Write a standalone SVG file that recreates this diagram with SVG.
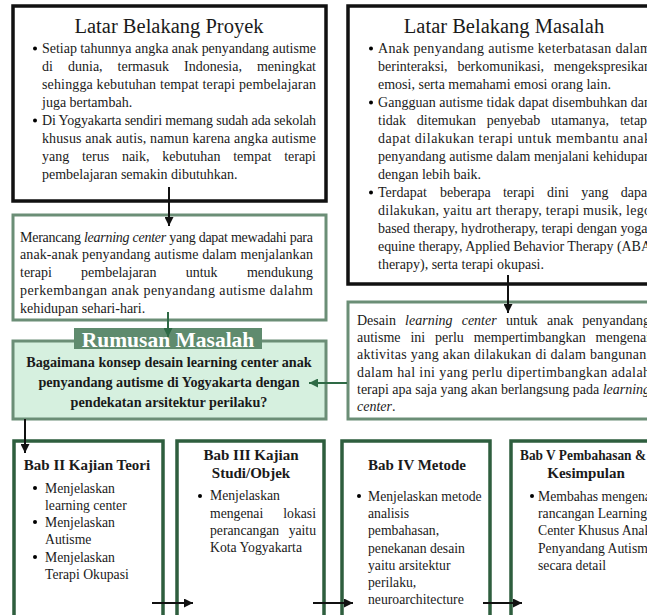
<svg xmlns="http://www.w3.org/2000/svg" width="647" height="615" viewBox="0 0 647 615">
<defs>
<style>
text{font-family:"Liberation Serif","Times New Roman",serif;fill:#1a1a1a}
.t{font-size:14px}
.h{font-size:20.5px;text-anchor:middle}
.b{font-size:14.2px;font-weight:bold;text-anchor:middle}
.bt{font-size:15px;font-weight:bold;text-anchor:middle}
.s{font-size:13.7px}
.e{text-anchor:end}
.i{font-style:italic}
.blk{fill:#fff;stroke:#111;stroke-width:3.5}
.grn{fill:#fff;stroke:#6b8e76;stroke-width:3}
.dk{fill:#fff;stroke:#2e5e3e;stroke-width:3.5}
.ln{stroke:#111;stroke-width:2;fill:none}
</style>
<marker id="ah" viewBox="0 0 10 10" refX="10" refY="5" markerWidth="4.5" markerHeight="4.5" orient="auto" markerUnits="strokeWidth"><path d="M0,0L10,5L0,10z" fill="#111"/></marker>
<marker id="ag" viewBox="0 0 10 10" refX="10" refY="5" markerWidth="4.5" markerHeight="4.5" orient="auto" markerUnits="strokeWidth"><path d="M0,0L10,5L0,10z" fill="#2e6a45"/></marker>
</defs>
<rect width="647" height="615" fill="#fff"/>

<g id="latar-proyek">
<rect class="blk" x="13" y="6" width="313" height="195"/>
<text class="h" x="169" y="33">Latar Belakang Proyek</text>
<circle cx="35" cy="48.5" r="2"/>
<text class="t" x="42" y="53" textLength="274" lengthAdjust="spacing">Setiap tahunnya angka anak penyandang autisme</text>
<text class="t" y="71"><tspan x="42">di</tspan><tspan x="68">dunia,</tspan><tspan x="117.6">termasuk</tspan><tspan x="184">Indonesia,</tspan></text>
<text class="t e" x="316" y="71">meningkat</text>
<text class="t" x="42" y="89" textLength="274" lengthAdjust="spacing">sehingga kebutuhan tempat terapi pembelajaran</text>
<text class="t" x="42" y="107">juga bertambah.</text>
<circle cx="35" cy="120.5" r="2"/>
<text class="t" x="42" y="125" textLength="274" lengthAdjust="spacing">Di Yogyakarta sendiri memang sudah ada sekolah</text>
<text class="t" x="42" y="143" textLength="274" lengthAdjust="spacing">khusus anak autis, namun karena angka autisme</text>
<text class="t" y="161"><tspan x="42">yang</tspan><tspan x="81.9">terus</tspan><tspan x="121.9">naik,</tspan><tspan x="162.2">kebutuhan</tspan><tspan x="233.2">tempat</tspan></text>
<text class="t e" x="316" y="161">terapi</text>
<text class="t" x="42" y="179">pembelajaran semakin dibutuhkan.</text>
</g>

<g id="latar-masalah">
<rect class="blk" x="348" y="6" width="314" height="278"/>
<text class="h" x="504" y="33">Latar Belakang Masalah</text>
<circle cx="371" cy="48.5" r="2"/>
<text class="t" x="378" y="53" textLength="273" lengthAdjust="spacing">Anak penyandang autisme keterbatasan dalam</text>
<text class="t" y="71"><tspan x="378">berinteraksi,</tspan><tspan x="457.4">berkomunikasi,</tspan></text>
<text class="t e" x="651" y="71">mengekspresikan</text>
<text class="t" x="378" y="89">emosi, serta memahami emosi orang lain.</text>
<circle cx="371" cy="102.5" r="2"/>
<text class="t" x="378" y="107" textLength="273" lengthAdjust="spacing">Gangguan autisme tidak dapat disembuhkan dan</text>
<text class="t" y="125"><tspan x="378">tidak</tspan><tspan x="416.8">ditemukan</tspan><tspan x="486.7">penyebab</tspan><tspan x="551.1">utamanya,</tspan></text>
<text class="t e" x="651" y="125">tetapi</text>
<text class="t" x="378" y="143" textLength="273" lengthAdjust="spacing">dapat dilakukan terapi untuk membantu anak</text>
<text class="t" x="378" y="161" textLength="273" lengthAdjust="spacing">penyandang autisme dalam menjalani kehidupan</text>
<text class="t" x="378" y="179">dengan lebih baik.</text>
<circle cx="371" cy="192.5" r="2"/>
<text class="t" y="197"><tspan x="378">Terdapat</tspan><tspan x="440.1">beberapa</tspan><tspan x="502.9">terapi</tspan><tspan x="547.1">dini</tspan><tspan x="581.2">yang</tspan></text>
<text class="t e" x="651" y="197">dapat</text>
<text class="t" x="378" y="215" textLength="273" lengthAdjust="spacing">dilakukan, yaitu art therapy, terapi musik, lego</text>
<text class="t" x="378" y="233" textLength="273" lengthAdjust="spacing">based therapy, hydrotherapy, terapi dengan yoga,</text>
<text class="t" x="378" y="251" textLength="273" lengthAdjust="spacing">equine therapy, Applied Behavior Therapy (ABA</text>
<text class="t" x="378" y="269">therapy), serta terapi okupasi.</text>
</g>

<g id="tujuan">
<rect class="grn" x="13" y="215" width="313" height="105"/>
<text class="t" x="20" y="241.5" textLength="293" lengthAdjust="spacing">Merancang <tspan class="i">learning center</tspan> yang dapat mewadahi para</text>
<text class="t" x="20" y="259.3" textLength="293" lengthAdjust="spacing">anak-anak penyandang autisme dalam menjalankan</text>
<text class="t" y="277"><tspan x="20">terapi</tspan><tspan x="81.1">pembelajaran</tspan><tspan x="185.7">untuk</tspan></text>
<text class="t e" x="313" y="277">mendukung</text>
<text class="t" x="20" y="294.7" textLength="293" lengthAdjust="spacing">perkembangan anak penyandang autisme dalahm</text>
<text class="t" x="20" y="312.5">kehidupan sehari-hari.</text>
</g>

<g id="desain">
<rect class="grn" x="348" y="302" width="314" height="117"/>
<text class="t" y="325"><tspan x="357">Desain</tspan><tspan class="i" x="405.1">learning</tspan><tspan class="i" x="461.7">center</tspan><tspan x="505.9">untuk</tspan><tspan x="547">anak</tspan></text>
<text class="t e" x="650" y="325">penyandang</text>
<text class="t" y="342.2"><tspan x="357">autisme</tspan><tspan x="410.4">ini</tspan><tspan x="435.1">perlu</tspan><tspan x="473.7">mempertimbangkan</tspan></text>
<text class="t e" x="650" y="342.2">mengenai</text>
<text class="t" x="357" y="359.4" textLength="293" lengthAdjust="spacing">aktivitas yang akan dilakukan di dalam bangunan,</text>
<text class="t" x="357" y="376.6" textLength="293" lengthAdjust="spacing">dalam hal ini yang perlu dipertimbangkan adalah</text>
<text class="t" x="357" y="393.8" textLength="293" lengthAdjust="spacing">terapi apa saja yang akan berlangsung pada <tspan class="i">learning</tspan></text>
<text class="t" x="357" y="411"><tspan class="i">center</tspan>.</text>
</g>

<g id="rumusan">
<rect x="13" y="341" width="313" height="78" fill="#d6f0df" stroke="#6b8e76" stroke-width="3"/>
<rect x="74" y="328" width="188" height="21" fill="#5f8b6e"/>
<text x="168" y="346.5" style="font-size:21.5px;font-weight:bold;text-anchor:middle;fill:#fff">Rumusan Masalah</text>
<text class="b" x="169" y="367">Bagaimana konsep desain learning center anak</text>
<text class="b" x="169" y="387">penyandang autisme di Yogyakarta dengan</text>
<text class="b" x="169" y="407">pendekatan arsitektur perilaku?</text>
</g>

<g id="bab2">
<rect class="dk" x="14" y="441" width="149" height="200"/>
<text class="bt" x="87" y="470">Bab II Kajian Teori</text>
<circle cx="35" cy="488" r="2"/>
<text class="s" x="45" y="492.5">Menjelaskan</text>
<text class="s" x="45" y="509.5">learning center</text>
<circle cx="35" cy="522" r="2"/>
<text class="s" x="45" y="526.5">Menjelaskan</text>
<text class="s" x="45" y="543.5">Autisme</text>
<circle cx="35" cy="557" r="2"/>
<text class="s" x="45" y="561.5">Menjelaskan</text>
<text class="s" x="45" y="578.5">Terapi Okupasi</text>
</g>

<g id="bab3">
<rect class="dk" x="177" y="441" width="147" height="200"/>
<text class="bt" x="251" y="460">Bab III Kajian</text>
<text class="bt" x="251" y="478">Studi/Objek</text>
<circle cx="200" cy="496" r="2"/>
<text class="s" x="210" y="500">Menjelaskan</text>
<text class="s" x="210" y="517.5">mengenai</text>
<text class="s e" x="316" y="517.5">lokasi</text>
<text class="s" x="210" y="535">perancangan</text>
<text class="s e" x="316" y="535">yaitu</text>
<text class="s" x="210" y="552">Kota Yogyakarta</text>
</g>

<g id="bab4">
<rect class="dk" x="342" y="441" width="148" height="200"/>
<text class="bt" x="417" y="470">Bab IV Metode</text>
<circle cx="359" cy="496" r="2"/>
<text class="s" x="368" y="501">Menjelaskan metode</text>
<text class="s" x="368" y="518">analisis</text>
<text class="s" x="368" y="535">pembahasan,</text>
<text class="s" x="368" y="552.5">penekanan desain</text>
<text class="s" x="368" y="569.5">yaitu arsitektur</text>
<text class="s" x="368" y="586.5">perilaku,</text>
<text class="s" x="368" y="603.5">neuroarchitecture</text>
</g>

<g id="bab5">
<rect class="dk" x="511" y="441" width="150" height="200"/>
<text x="520" y="460" textLength="126" lengthAdjust="spacingAndGlyphs" style="font-size:15px;font-weight:bold">Bab V Pembahasan &amp;</text>
<text class="bt" x="586" y="478">Kesimpulan</text>
<circle cx="532" cy="496" r="2"/>
<text class="s" x="538" y="501">Membahas mengenai</text>
<text class="s" x="538" y="518">rancangan Learning</text>
<text class="s" x="538" y="535">Center Khusus Anak</text>
<text class="s" x="538" y="552.5">Penyandang Autisme</text>
<text class="s" x="538" y="569.5">secara detail</text>
</g>

<g id="connectors">
<line class="ln" x1="169" y1="187" x2="169" y2="226" marker-end="url(#ah)"/>
<line x1="168" y1="312" x2="168" y2="337" stroke="#2e6a45" stroke-width="2" marker-end="url(#ag)"/>
<line class="ln" x1="508" y1="275" x2="508" y2="313" marker-end="url(#ah)"/>
<line x1="347" y1="383" x2="309" y2="383" stroke="#2e6a45" stroke-width="2" marker-end="url(#ag)"/>
<line class="ln" x1="25" y1="419" x2="25" y2="453" marker-end="url(#ah)"/>
<line class="ln" x1="152" y1="603" x2="193" y2="603" marker-end="url(#ah)"/>
<line class="ln" x1="313" y1="603" x2="353" y2="603" marker-end="url(#ah)"/>
<line class="ln" x1="483" y1="603" x2="522" y2="603" marker-end="url(#ah)"/>
</g>
</svg>
